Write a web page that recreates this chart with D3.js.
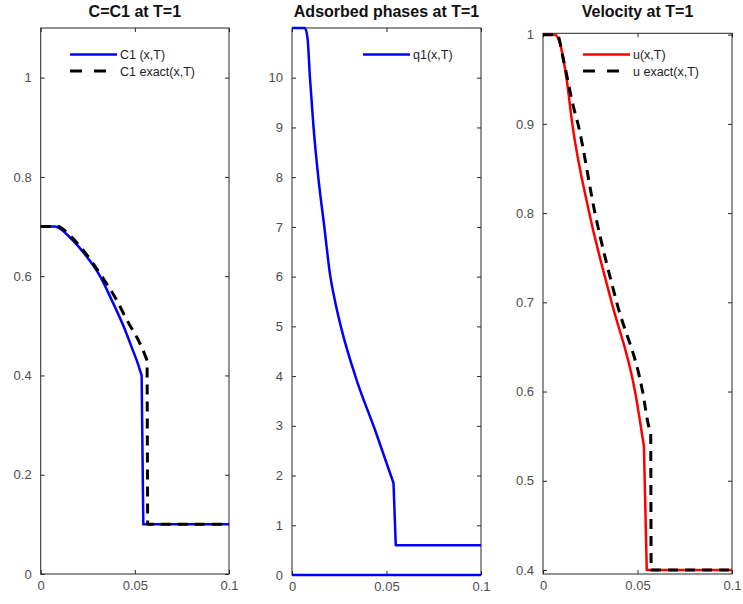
<!DOCTYPE html>
<html lang="en">
<head>
  <meta charset="UTF-8">
  <title>C1, adsorbed phases and velocity at T=1</title>
  <script src="https://d3js.org/d3.v7.min.js"></script>
  <style>
    body { margin: 0; background: #fff; }
    svg { display: block; font-family: "Liberation Sans", Arial, sans-serif; }
    .tick text { fill: #4d4d4d; font-size: 13px; }
    .tick line { stroke: #262626; }
    .title { font-weight: bold; font-size: 16px; fill: #111; }
    .leg { font-size: 12.5px; fill: #222; }
  </style>
</head>
<body>
<script>
  // x ticks shared by all panels
  const xTicks = [0, 0.05, 0.1];

  // panel 1: concentration C1
  const c1X      = [0, 0.0076, 0.015, 0.0218, 0.0315, 0.0377, 0.0439, 0.049, 0.0515, 0.0536, 0.0545, 0.1];
  const c1Y      = [0.7, 0.7, 0.68, 0.652, 0.6, 0.552, 0.5, 0.45, 0.425, 0.4, 0.1, 0.1];
  const c1ExX    = [0, 0.009, 0.016, 0.0235, 0.0324, 0.0403, 0.046, 0.0525, 0.0555, 0.0565, 0.0568, 0.1];
  const c1ExY    = [0.7, 0.7, 0.68, 0.648, 0.6, 0.552, 0.51, 0.466, 0.44, 0.43, 0.1, 0.1];
  const c1Ticks  = [0, 0.2, 0.4, 0.6, 0.8, 1];

  // panel 2: adsorbed phases
  const q1X      = [0, 0.0068, 0.0082, 0.0095, 0.0114, 0.0139, 0.0171, 0.0201, 0.0228, 0.0263, 0.0342, 0.0439, 0.0537, 0.0549, 0.1];
  const q1Y      = [11, 11, 10.8, 10, 9, 8, 7, 6.05, 5.5, 4.93, 3.92, 2.92, 1.85, 0.6, 0.6];
  const q2X      = [0, 0.1];
  const q2Y      = [0, 0];
  const qTicks   = [0, 1, 2, 3, 4, 5, 6, 7, 8, 9, 10];

  // panel 3: velocity
  const uX       = [0, 0.0063, 0.009, 0.0125, 0.0155, 0.0245, 0.0363, 0.0487, 0.0534, 0.0549, 0.1];
  const uY       = [1, 1, 0.99, 0.95, 0.9, 0.8, 0.7, 0.6, 0.5385, 0.4, 0.4];
  const uExX     = [0, 0.0075, 0.011, 0.016, 0.0185, 0.0275, 0.039, 0.0527, 0.0561, 0.057, 0.0572, 0.1];
  const uExY     = [1, 1, 0.97, 0.92, 0.9, 0.8, 0.7, 0.6, 0.56, 0.555, 0.4, 0.4];
  const uTicks   = [0.4, 0.5, 0.6, 0.7, 0.8, 0.9, 1];

  const zip = (xs, ys) => xs.map((x, i) => [x, ys[i]]);

  const svg = d3.select("body").append("svg")
    .attr("width", 743)
    .attr("height", 604);

  // kink = index where the smooth part ends and the shock jump starts
  const panels = [
    {
      title: "C=C1 at T=1", left: 40.7, right: 229, top: 28, bottom: 574,
      yDomain: [0, 1.1], yTicks: c1Ticks, legX: 70,
      series: [
        { data: zip(c1X, c1Y), kink: 9, color: "#0000ff", dash: null, label: "C1 (x,T)" },
        { data: zip(c1ExX, c1ExY), kink: 9, color: "#000", dash: "10,7", label: "C1  exact(x,T)" }
      ]
    },
    {
      title: "Adsorbed phases at T=1", left: 292, right: 481, top: 28, bottom: 575,
      yDomain: [0, 11], yTicks: qTicks, legX: 363,
      series: [
        { data: zip(q1X, q1Y), kink: 12, color: "#0000ff", dash: null, label: "q1(x,T)" },
        { data: zip(q2X, q2Y), kink: 1, color: "#0000ff", dash: null, label: null }
      ]
    },
    {
      title: "Velocity at T=1", left: 543, right: 732, top: 33.3, bottom: 574,
      yDomain: [0.3955, 1.0015], yTicks: uTicks, legX: 583,
      series: [
        { data: zip(uX, uY), kink: 8, color: "#ff0000", dash: null, label: "u(x,T)" },
        { data: zip(uExX, uExY), kink: 9, color: "#000", dash: "10,7", label: "u  exact(x,T)" }
      ]
    }
  ];

  panels.forEach(p => {
    const x = d3.scaleLinear().domain([0, 0.1]).range([p.left, p.right]);
    const y = d3.scaleLinear().domain(p.yDomain).range([p.bottom, p.top]);
    const g = svg.append("g");
    const fmt = d3.format("~g");

    // axes with inward ticks on all four sides (matlab box)
    g.append("g").attr("transform", `translate(0,${p.bottom})`)
      .call(d3.axisBottom(x).tickValues(xTicks).tickFormat(fmt).tickSizeInner(-4).tickSizeOuter(0).tickPadding(7));
    g.append("g").attr("transform", `translate(0,${p.top})`)
      .call(d3.axisTop(x).tickValues(xTicks).tickFormat("").tickSizeInner(-4).tickSizeOuter(0));
    g.append("g").attr("transform", `translate(${p.left},0)`)
      .call(d3.axisLeft(y).tickValues(p.yTicks).tickFormat(fmt).tickSizeInner(-4).tickSizeOuter(0).tickPadding(9));
    g.append("g").attr("transform", `translate(${p.right},0)`)
      .call(d3.axisRight(y).tickValues(p.yTicks).tickFormat("").tickSizeInner(-4).tickSizeOuter(0));
    g.selectAll(".domain").remove();

    g.append("rect")
      .attr("x", p.left).attr("y", p.top)
      .attr("width", p.right - p.left).attr("height", p.bottom - p.top)
      .attr("fill", "none").attr("stroke", "#262626").attr("stroke-width", 1);

    const smooth = d3.line().x(d => x(d[0])).y(d => y(d[1])).curve(d3.curveMonotoneX);

    p.series.forEach(s => {
      // smooth rarefaction part, then straight shock and plateau
      let d = smooth(s.data.slice(0, s.kink + 1));
      s.data.slice(s.kink + 1).forEach(pt => { d += `L${x(pt[0])},${y(pt[1])}`; });
      g.append("path")
        .attr("d", d)
        .attr("fill", "none")
        .attr("stroke", s.color)
        .attr("stroke-width", s.dash ? 3 : 2.5)
        .attr("stroke-dasharray", s.dash)
        .attr("stroke-linejoin", "round");
    });

    // legend
    let row = 0;
    p.series.filter(s => s.label).forEach(s => {
      const ly = 54.5 + row * 16.5;
      g.append("line")
        .attr("x1", p.legX).attr("x2", p.legX + 47)
        .attr("y1", ly).attr("y2", ly)
        .attr("stroke", s.color)
        .attr("stroke-width", s.dash ? 3 : 2.5)
        .attr("stroke-dasharray", s.dash ? "12,12" : null);
      g.append("text").attr("class", "leg")
        .attr("x", p.legX + 50).attr("y", ly + 4.5)
        .text(s.label);
      row++;
    });

    g.append("text").attr("class", "title")
      .attr("x", (p.left + p.right) / 2).attr("y", 17)
      .attr("text-anchor", "middle")
      .text(p.title);
  });
</script>
</body>
</html>
